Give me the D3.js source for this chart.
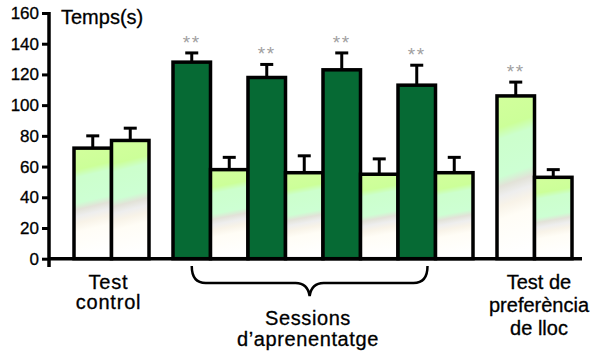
<!DOCTYPE html>
<meta charset="utf-8">
<script src="https://d3js.org/d3.v7.min.js"></script>
<style>
  body { margin: 0; background: #fff; }
  text { font-family: "Liberation Sans", Arial, sans-serif; }
</style>
<svg id="chart" width="590" height="356"></svg>

<script>

// Data
var barGroup   = [0, 0, 1, 1, 1, 1, 1, 1, 1, 1, 2, 2];
var barValues  = [72, 77, 128, 58, 118, 56, 123, 55, 113, 56, 106, 53];
var barErrors  = [8, 8, 6, 8, 8.5, 11, 11, 10, 13, 10, 9, 5];
var barType    = ["light", "light", "dark", "light", "dark", "light", "dark", "light", "dark", "light", "light", "light"];
var significant = [false, false, true, false, true, false, true, false, true, false, true, false];
var groupLabels = [["Test", "control"], ["Sessions", "d\u2019aprenentatge"], ["Test de", "preferència", "de lloc"]];
var yTicks = [0, 20, 40, 60, 80, 100, 120, 140, 160];
var yTitle = "Temps(s)";

var svg = d3.select("#chart");

// gap between groups, in bar widths
var gap = 0.64;
var slot = barValues.map(function(d, i) { return i + barGroup[i] * gap; });

var x = d3.scaleLinear()
  .domain([0, barValues.length + 2 * gap])
  .range([74, 572]);
var bw = x(1) - x(0);

var y = d3.scaleLinear()
  .domain([0, 160])
  .range([258.7, 13]);

// gradient for the pale bars
var grad = svg.append("defs").append("linearGradient")
  .attr("id", "pale")
  .attr("x1", 0).attr("y1", 0).attr("x2", 0.08).attr("y2", 1);
[[0, "#d2ff9c"], [0.2, "#ccff99"], [0.27, "#ccffcc"], [0.5, "#cdffd3"],
 [0.56, "#e2e2d8"], [0.62, "#eeeeee"], [0.68, "#f8f3e8"], [0.76, "#fffdf6"], [1, "#ffffff"]]
  .forEach(function(s) {
    grad.append("stop").attr("offset", s[0]).attr("stop-color", s[1]);
  });

// bars
svg.append("g")
  .selectAll("rect")
  .data(barValues)
  .enter()
  .append("rect")
    .attr("x", function(d, i) { return x(slot[i]); })
    .attr("y", function(d) { return y(d); })
    .attr("width", bw)
    .attr("height", function(d) { return y(0) - y(d); })
    .attr("fill", function(d, i) { return barType[i] == "dark" ? "#066a34" : "url(#pale)"; })
    .attr("stroke", "#000")
    .attr("stroke-width", 3.5);

// error bars
var err = svg.append("g").attr("stroke", "#000").attr("stroke-width", 3);
barValues.forEach(function(d, i) {
  var cx = x(slot[i] + 0.5);
  err.append("line")
    .attr("x1", cx).attr("x2", cx)
    .attr("y1", y(d)).attr("y2", y(d + barErrors[i]));
  err.append("line")
    .attr("x1", cx - 6.5).attr("x2", cx + 6.5)
    .attr("y1", y(d + barErrors[i])).attr("y2", y(d + barErrors[i]));
});

// significance stars
svg.append("g")
  .selectAll("text")
  .data(barValues.filter(function(d, i) { return significant[i]; }))
  .enter()
  .append("text")
    .attr("x", function(d) { return x(slot[barValues.indexOf(d)] + 0.5); })
    .attr("y", function(d) { return y(d + barErrors[barValues.indexOf(d)]) - 4; })
    .attr("text-anchor", "middle")
    .attr("font-size", 19)
    .attr("letter-spacing", 1.5)
    .attr("fill", "#a0a0a0")
    .text("**");

// y axis
var yAxis = svg.append("g")
  .attr("transform", "translate(49,0)")
  .call(d3.axisLeft(y).tickValues(yTicks).tickSize(7).tickSizeOuter(0).tickPadding(3));
yAxis.select(".domain").remove();
yAxis.selectAll(".tick line").attr("stroke-width", 3);
yAxis.selectAll(".tick text")
  .attr("font-size", 17)
  .attr("font-family", "Liberation Sans, Arial, sans-serif")
  .attr("fill", "#000")
  .attr("stroke", "#000")
  .attr("stroke-width", 0.3);
svg.append("line")
  .attr("x1", 49).attr("x2", 49)
  .attr("y1", y(160) - 1).attr("y2", 267)
  .attr("stroke", "#000").attr("stroke-width", 3.5);

// x axis line
svg.append("line")
  .attr("x1", 49).attr("x2", 582)
  .attr("y1", y(0)).attr("y2", y(0))
  .attr("stroke", "#000").attr("stroke-width", 3.5);

svg.append("text")
  .attr("x", 61).attr("y", 24)
  .attr("font-size", 20)
  .attr("stroke", "#000")
  .attr("stroke-width", 0.3)
  .text(yTitle);

// group labels under the axis
var labelPos = [
  { cx: x(1) - 3, top: 288.7, lh: 20, ls: 0.8 },
  { cx: 308, top: 325, lh: 21, ls: 0.6 },
  { cx: 539, top: 288.7, lh: 23, ls: 0 }
];
groupLabels.forEach(function(lines, g) {
  var t = svg.append("text")
    .attr("text-anchor", "middle")
    .attr("font-size", 20)
    .attr("stroke", "#000")
    .attr("stroke-width", 0.3)
    .attr("letter-spacing", labelPos[g].ls);
  lines.forEach(function(s, k) {
    t.append("tspan")
      .attr("x", labelPos[g].cx)
      .attr("y", labelPos[g].top + k * labelPos[g].lh)
      .text(s);
  });
});

// brace under the learning sessions
var bl = x(slot[2] + 0.5), br = x(slot[9]) - 8, bm = (bl + br) / 2;
var p = d3.path();
p.moveTo(bl, 266);
p.quadraticCurveTo(bl, 283, bl + 14, 283);
p.lineTo(bm - 14, 283);
p.quadraticCurveTo(bm - 2, 283, bm, 296);
p.quadraticCurveTo(bm + 2, 283, bm + 14, 283);
p.lineTo(br - 14, 283);
p.quadraticCurveTo(br, 283, br, 266);
svg.append("path")
  .attr("d", p.toString())
  .attr("fill", "none")
  .attr("stroke", "#000")
  .attr("stroke-width", 2.5);

</script>
